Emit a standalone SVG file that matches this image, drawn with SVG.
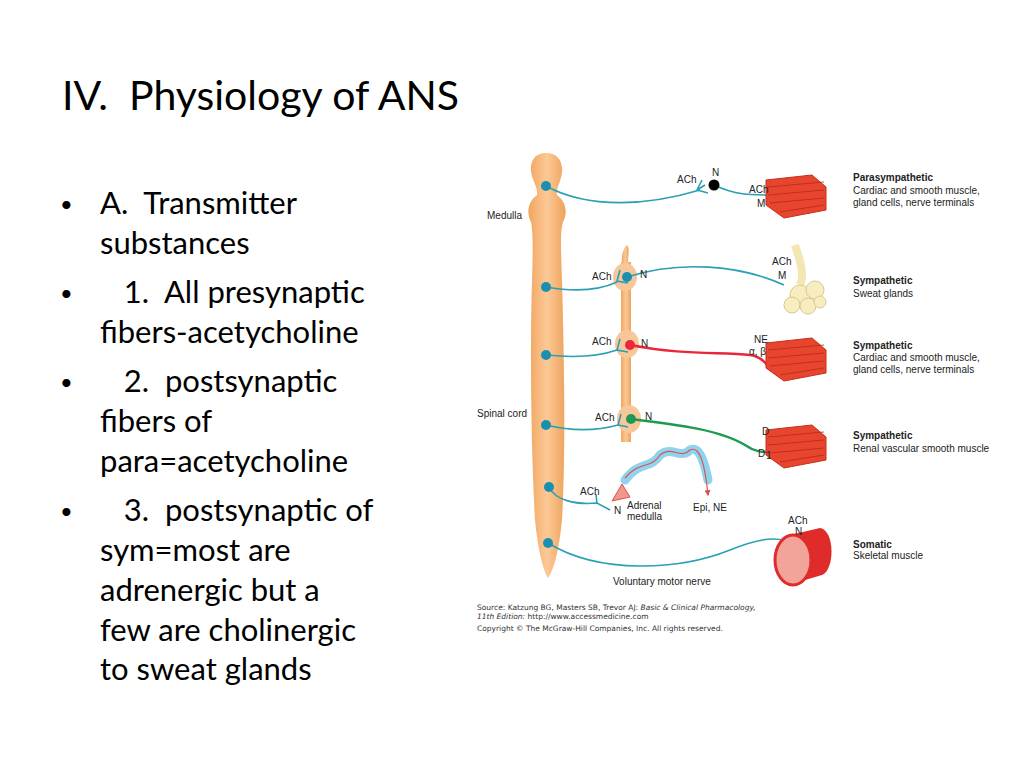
<svg xmlns="http://www.w3.org/2000/svg" width="1024" height="768" viewBox="0 0 1024 768">
<defs>
<style>
.t{font-family:Lato,"Open Sans",sans-serif;fill:#000;white-space:pre}
.s{font-family:"Liberation Sans",Arial,sans-serif;font-size:10px;fill:#222}
.b{font-weight:bold}
.n{fill:none;stroke:#2a9fb5;stroke-width:1.6}
.dot{fill:#1a8fb0}
.m{fill:#e8452f;stroke:#c2301e;stroke-width:1}
.ml{stroke:#b52a18;stroke-width:0.8;fill:none}
.src{font-family:"DejaVu Sans","Liberation Sans",sans-serif;font-size:7.5px;fill:#333}
</style>
<linearGradient id="cg" x1="0" x2="1"><stop offset="0" stop-color="#f0a560"/><stop offset="0.5" stop-color="#fcc996"/><stop offset="1" stop-color="#eda25c"/></linearGradient>
<marker id="ar" viewBox="0 0 10 10" refX="8" refY="5" markerWidth="5" markerHeight="5" orient="auto"><path d="M0,0L10,5L0,10z" fill="#d9534f"/></marker>
</defs>
<rect width="1024" height="768" fill="#fff"/>
<g id="text-left" xml:space="preserve">
<text class="t" x="62" y="110" font-size="41">IV.  Physiology of ANS</text>
<g font-size="31">
<text class="t" x="60" y="212" font-size="22">•</text><text class="t" x="100" y="214">A.  Transmitter</text>
<text class="t" x="100" y="254">substances</text>
<text class="t" x="60" y="301" font-size="22">•</text><text class="t" x="100" y="303">   1.  All presynaptic</text>
<text class="t" x="100" y="343">fibers-acetycholine</text>
<text class="t" x="60" y="390" font-size="22">•</text><text class="t" x="100" y="392">   2.  postsynaptic</text>
<text class="t" x="100" y="432">fibers of</text>
<text class="t" x="100" y="472">para=acetycholine</text>
<text class="t" x="60" y="519" font-size="22">•</text><text class="t" x="100" y="521">   3.  postsynaptic of</text>
<text class="t" x="100" y="561">sym=most are</text>
<text class="t" x="100" y="601">adrenergic but a</text>
<text class="t" x="100" y="641">few are cholinergic</text>
<text class="t" x="100" y="680">to sweat glands</text>
</g>
</g>
<g id="spinal-cord">
<path fill="url(#cg)" d="M546,153 C558,153 563,162 562,172 C561,182 556,188 557,195 C566,202 568,212 563,222 C560,232 561,250 562,280 C564,350 566,450 562,520 C559,550 554,570 548,578 C543,570 538,550 535,520 C531,450 530,350 532,280 C533,250 533,232 531,222 C526,212 528,202 537,195 C538,188 533,182 531,172 C530,162 534,153 546,153 Z"/>
<text class="s" x="487" y="219">Medulla</text>
<text class="s" x="477" y="417">Spinal cord</text>
</g>
<g id="ganglion-chain">
<path fill="url(#cg)" d="M622,262 C621,255 624,247 627,245 C630,248 628,256 628,262 Z"/>
<rect x="621" y="262" width="10" height="180" fill="url(#cg)"/>
<ellipse cx="625" cy="277" rx="12" ry="14" fill="#f7c79a"/>
<ellipse cx="627" cy="344" rx="12" ry="14" fill="#f7c79a"/>
<ellipse cx="629" cy="419" rx="12" ry="14" fill="#f7c79a"/>
</g>
<g id="connectors">
<path class="n" d="M546,186 C590,210 650,205 700,190"/>
<path class="n" d="M702,180 L697,190 L708,193 M697,190 L705,185"/>
<path class="n" d="M714,185 C735,195 750,195 770,195"/>
<path class="n" d="M546,287 C575,292 600,290 617,282"/>
<path class="n" d="M620,270 L617,281 L628,283"/>
<path class="n" d="M627,277 C680,260 740,265 784,285"/>
<path class="n" d="M546,355 C575,358 600,356 617,350"/>
<path class="n" d="M620,339 L617,350 L628,352"/>
<path d="M630,345 C680,355 720,352 750,355 C760,356 765,362 768,366" fill="none" stroke="#e8283a" stroke-width="2.5"/>
<path class="n" d="M546,425 C575,432 600,430 618,425"/>
<path class="n" d="M621,414 L618,425 L628,427"/>
<path d="M631,419 C680,425 720,430 745,445 C755,452 762,452 768,452" fill="none" stroke="#1d9a52" stroke-width="2.5"/>
<path class="n" d="M549,487 C555,500 575,505 597,503 L610,510"/>
<path class="n" d="M596,494 L597,504"/>
<path class="n" d="M548,543 C600,575 680,570 730,550 C760,538 780,535 795,545"/>
<path d="M625,480 C640,460 650,470 660,455 C672,445 680,460 690,450 C700,445 705,465 708,480" fill="none" stroke="#8fd3ee" stroke-width="9" stroke-linecap="round"/>
<path d="M625,478 C640,460 650,470 660,455 C672,445 680,460 690,450 C700,445 705,465 708,495" fill="none" stroke="#d9534f" stroke-width="1.2" marker-end="url(#ar)"/>
<path d="M612,501 L622,484 L630,497 Z" fill="#f1968a" stroke="#d9534f"/>
</g>
<g id="neurons">
<circle class="dot" cx="546" cy="186" r="5"/>
<circle cx="714" cy="185" r="5.5" fill="#000"/>
<circle class="dot" cx="546" cy="287" r="5"/>
<circle class="dot" cx="627" cy="277" r="5"/>
<circle class="dot" cx="546" cy="355" r="5"/>
<circle cx="630" cy="345" r="5" fill="#e8283a"/>
<circle class="dot" cx="546" cy="425" r="5"/>
<circle cx="631" cy="419" r="5" fill="#1d9a52"/>
<circle class="dot" cx="549" cy="487" r="5"/>
<circle class="dot" cx="548" cy="543" r="5"/>
</g>
<g id="targets">
<g id="para-muscle"><path class="m" d="M766,180 L812,175 L826,187 L826,210 L784,218 L766,205 Z"/><path class="ml" d="M768,187 L824,182 M768,195 L824,190 M770,203 L824,198 M780,212 L824,205"/></g>
<g id="sweat-gland"><path d="M795,245 C800,260 805,275 800,285" stroke="#f3e6b0" stroke-width="8" fill="none"/><circle cx="800" cy="295" r="10" fill="#f7edc0" stroke="#d8c98a"/><circle cx="815" cy="290" r="9" fill="#f7edc0" stroke="#d8c98a"/><circle cx="792" cy="305" r="8" fill="#f7edc0" stroke="#d8c98a"/><circle cx="808" cy="306" r="8" fill="#f7edc0" stroke="#d8c98a"/><circle cx="820" cy="302" r="6" fill="#f7edc0" stroke="#d8c98a"/></g>
<g id="symp-muscle"><path class="m" d="M766,343 L812,338 L826,350 L826,373 L784,381 L766,368 Z"/><path class="ml" d="M768,350 L824,345 M768,358 L824,353 M770,366 L824,361 M780,375 L824,368"/></g>
<g id="renal-muscle"><path class="m" d="M766,430 L812,425 L826,437 L826,460 L784,468 L766,455 Z"/><path class="ml" d="M768,437 L824,432 M768,445 L824,440 M770,453 L824,448 M780,462 L824,455"/></g>
<g id="skeletal"><path d="M790,535 L820,528 C835,530 835,570 822,575 L795,583 Z" fill="#e02b2b"/><ellipse cx="793" cy="560" rx="18" ry="25" fill="#f2a49a" stroke="#e02b2b" stroke-width="3"/></g>
</g>
<g id="labels">
<text class="s" x="677" y="183">ACh</text><text class="s" x="712" y="176">N</text>
<text class="s" x="749" y="193">ACh</text><text class="s" x="757" y="207">M</text>
<text class="s" x="772" y="265">ACh</text><text class="s" x="778" y="279">M</text>
<text class="s" x="592" y="280">ACh</text><text class="s" x="640" y="278">N</text>
<text class="s" x="592" y="345">ACh</text><text class="s" x="641" y="347">N</text>
<text class="s" x="754" y="343">NE</text><text class="s" x="749" y="355">α, β</text>
<text class="s" x="595" y="421">ACh</text><text class="s" x="645" y="420">N</text>
<text class="s" x="762" y="435">D</text><text class="s" x="758" y="457">D</text><text class="s" x="766" y="459" font-size="6">1</text>
<text class="s" x="580" y="495">ACh</text><text class="s" x="614" y="514">N</text>
<text class="s" x="627" y="509">Adrenal</text><text class="s" x="627" y="520">medulla</text>
<text class="s" x="693" y="511">Epi, NE</text>
<text class="s" x="788" y="524">ACh</text><text class="s" x="795" y="535">N</text>
<text class="s" x="613" y="585">Voluntary motor nerve</text>
<text class="s b" x="853" y="181">Parasympathetic</text><text class="s" x="853" y="194">Cardiac and smooth muscle,</text><text class="s" x="853" y="206">gland cells, nerve terminals</text>
<text class="s b" x="853" y="284">Sympathetic</text><text class="s" x="853" y="297">Sweat glands</text>
<text class="s b" x="853" y="349">Sympathetic</text><text class="s" x="853" y="361">Cardiac and smooth muscle,</text><text class="s" x="853" y="373">gland cells, nerve terminals</text>
<text class="s b" x="853" y="439">Sympathetic</text><text class="s" x="853" y="452">Renal vascular smooth muscle</text>
<text class="s b" x="853" y="548">Somatic</text><text class="s" x="853" y="559">Skeletal muscle</text>
<text class="src" x="477" y="610">Source: Katzung BG, Masters SB, Trevor AJ: <tspan font-style="italic">Basic &amp; Clinical Pharmacology,</tspan></text>
<text class="src" x="477" y="619"><tspan font-style="italic">11th Edition:</tspan> http://www.accessmedicine.com</text>
<text class="src" x="477" y="631">Copyright © The McGraw-Hill Companies, Inc. All rights reserved.</text>
</g>
</svg>
